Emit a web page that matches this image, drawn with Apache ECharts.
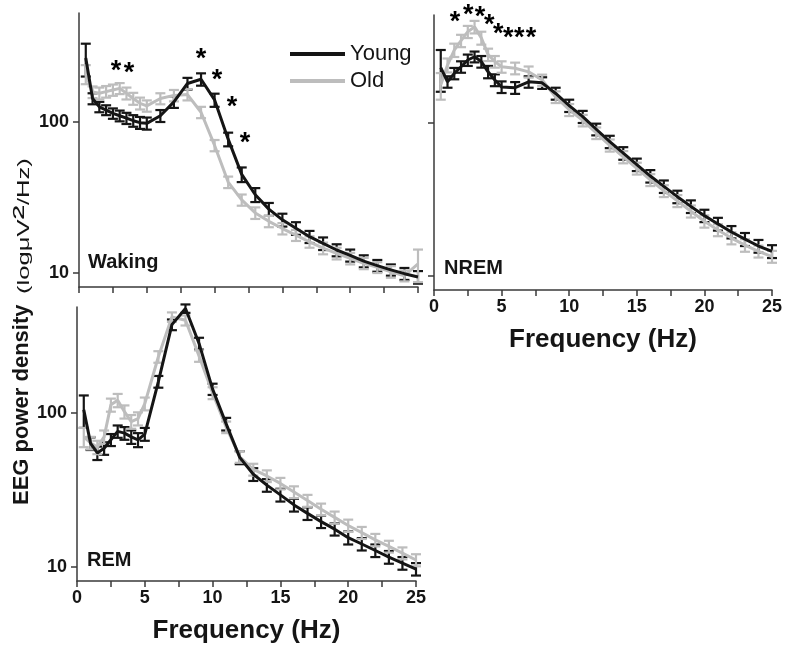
<!DOCTYPE html>
<html><head><meta charset="utf-8">
<script src="https://cdn.jsdelivr.net/npm/echarts@6/dist/echarts.min.js"></script>
<style>html,body{margin:0;padding:0;background:#fff}#c{width:787px;height:648px}</style>
</head><body><div id="c"></div>
<script>
// Frequency bins (Hz)
const freq = [0.5,1,1.5,2,2.5,3,3.5,4,4.5,5,6,7,8,9,10,11,12,13,14,15,16,17,18,19,20,21,22,23,24,25];
const xTicks = [0,5,10,15,20,25];
const yTicks = [10,100];

// Waking
const wakeYoung = [265,143,126,120,114,110,106,102,99,98,110,136,180,192,140,77,45,33,26.5,22.5,19.8,17.4,15.7,14.2,13.1,12.0,11.2,10.5,9.9,9.4];
const wakeYoungErr = [65,12,10,9,9,9,9,9,9,9,10,12,16,18,14,8,5,3.5,2.6,2.2,1.9,1.6,1.5,1.3,1.2,1.1,1.0,0.9,0.9,0.9];
const wakeOld = [208,158,155,159,163,167,155,143,133,128,143,150,152,116,70,40,30.5,25,22,19.7,17.8,16.1,14.6,13.5,12.5,11.6,10.9,10.2,9.6,11.5];
const wakeOldErr = [30,14,14,14,14,14,14,13,12,11,12,13,13,10,6,3.5,2.6,2.2,1.9,1.7,1.5,1.4,1.3,1.2,1.1,1.0,0.9,0.9,0.8,2.8];

// NREM
const nremYoung = [230,186,211,233,258,271,252,216,191,172,170,186,183,156,130,110,91,75.5,63.5,53.5,45,38.5,33,28.5,24.8,21.9,19.4,17.4,15.7,14.5];
const nremYoungErr = [70,16,18,20,22,22,22,20,17,15,15,16,16,14,12,10,8,7,6,5,4.2,3.6,3.1,2.7,2.3,2.1,1.8,1.7,1.5,1.4];
const nremOld = [177,239,300,345,395,425,360,280,252,233,228,216,191,148,122,104,86,71.5,60,50.5,42.5,36,31,26.5,22.8,20,17.7,15.9,14.5,13.4];
const nremOldErr = [35,25,30,32,36,40,35,26,22,20,20,18,16,13,11,9,7.5,6.5,5.5,4.5,3.8,3.2,2.8,2.4,2.1,1.8,1.6,1.5,1.3,1.2];

// REM
const remYoung = [105,63.5,55,59,67,76,74,70,67,73,160,375,477,283,143,85,51.5,40,34,29.4,25.3,22.3,19.7,17.6,15.5,14.1,12.8,11.6,10.6,9.7];
const remYoungErr = [25,6,5.5,5.5,6,7,7,7,7,7,14,30,30,25,12,8,5,3.8,3.2,2.8,2.4,2.1,1.8,1.6,1.5,1.3,1.2,1.1,1.0,0.9];
const remOld = [70,64,60,70,113,121,102,88,92,115,232,420,400,235,135,81,52,43,39,34.9,30.7,27,23.7,21,18.6,16.7,15,13.6,12.3,11.1];
const remOldErr = [10,6,6,7,11,12,10,9,9,11,20,30,30,20,12,7,4.5,3.8,3.4,3.0,2.7,2.4,2.1,1.9,1.7,1.5,1.4,1.2,1.1,1.0];

// Significance asterisks (x in Hz, y in µV²/Hz)
const wakeStarX = [2.73,3.69,9.0,10.18,11.28,12.24];
const wakeStarY = [235,228,285,206,136,79];
const nremStarX = [1.55,2.54,3.40,4.09,4.76,5.50,6.31,7.17];
const nremStarY = [495,553,534,471,416,389,389,391];

const panelNames = ['Waking','NREM','REM'];

const FONT = '"Liberation Sans", Arial, sans-serif';
const BLACK = '#151515';
const GREY = '#bdbdbd';
const AXIS = '#3a3a3a';

const grids = [
  {left:79, top:13, width:339, height:274},
  {left:434, top:15, width:338, height:275},
  {left:77, top:307, width:339, height:274}
];
const yRanges = [[8.08,527],[8.1,508],[8.11,488]];

function pairs(xs, ys){ return xs.map((x,i)=>[x, ys[i]]); }
function triples(xs, ys, es){ return xs.map((x,i)=>[x, ys[i], es[i]]); }

function errSeries(name, idx, data, color, z){
  return {
    type:'custom', name, xAxisIndex:idx, yAxisIndex:idx, z, silent:true,
    encode:{x:0, y:1},
    data,
    renderItem(params, api){
      const x = api.value(0), y = api.value(1), e = api.value(2);
      const t = api.coord([x, y + e]);
      const b = api.coord([x, Math.max(y - e, 0.5)]);
      const w = 5;
      const st = {stroke:color, lineWidth:2.2};
      return {type:'group', children:[
        {type:'line', shape:{x1:t[0], y1:t[1], x2:b[0], y2:b[1]}, style:st},
        {type:'line', shape:{x1:t[0]-w, y1:t[1], x2:t[0]+w, y2:t[1]}, style:st},
        {type:'line', shape:{x1:b[0]-w, y1:b[1], x2:b[0]+w, y2:b[1]}, style:st}
      ]};
    }
  };
}
function lineSeries(name, idx, data, color, z){
  return {type:'line', name, xAxisIndex:idx, yAxisIndex:idx, data, symbol:'none', z,
    lineStyle:{color, width:3}, itemStyle:{color}, silent:true, animation:false};
}
function starSeries(idx, data){
  return {type:'scatter', xAxisIndex:idx, yAxisIndex:idx, data, symbolSize:1, clip:false, silent:true, z:10,
    itemStyle:{color:'rgba(0,0,0,0)', opacity:1},
    label:{show:true, formatter:'*', position:'inside', offset:[0,6], fontSize:27, fontWeight:'bold', fontFamily:FONT,
      color:'#000', opacity:1}};
}

const xAxes = grids.map((g,i)=>({
  type:'value', gridIndex:i, min:0, max:25, interval:5,
  axisLine:{show:true, onZero:false, lineStyle:{color:AXIS, width:1.5}},
  axisTick:{show:true, length:6, lineStyle:{color:AXIS, width:1.5}},
  minorTick:{show:true, splitNumber:2, length:6, lineStyle:{color:AXIS, width:1.5}},
  splitLine:{show:false}, minorSplitLine:{show:false},
  axisLabel:{show:i>0, margin:8, fontSize:18, fontWeight:'bold', fontFamily:FONT, color:BLACK,
    customValues:xTicks},
  name: i>0 ? 'Frequency (Hz)' : '',
  nameLocation:'middle', nameGap:37,
  nameTextStyle:{fontSize:26, fontWeight:'bold', fontFamily:FONT, color:BLACK}
}));
const yAxes = grids.map((g,i)=>({
  type:'log', logBase:10, gridIndex:i, min:yRanges[i][0], max:yRanges[i][1],
  axisLine:{show:true, lineStyle:{color:AXIS, width:1.5}},
  axisTick:{show:true, length:6, customValues:yTicks, lineStyle:{color:AXIS, width:1.5}},
  minorTick:{show:false}, splitLine:{show:false},
  axisLabel:{show:i!==1, margin:10, fontSize:18, fontWeight:'bold', fontFamily:FONT, color:BLACK,
    customValues:yTicks, formatter:(v)=>String(Math.round(v))}
}));

const series = [
  // Waking
  errSeries('Young err', 0, triples(freq, wakeYoung, wakeYoungErr), BLACK, 2),
  errSeries('Old err', 0, triples(freq, wakeOld, wakeOldErr), GREY, 3),
  lineSeries('Old', 0, pairs(freq, wakeOld), GREY, 4),
  lineSeries('Young', 0, pairs(freq, wakeYoung), BLACK, 5),
  // NREM
  errSeries('Young err', 1, triples(freq, nremYoung, nremYoungErr), BLACK, 2),
  errSeries('Old err', 1, triples(freq, nremOld, nremOldErr), GREY, 3),
  lineSeries('Old', 1, pairs(freq, nremOld), GREY, 4),
  lineSeries('Young', 1, pairs(freq, nremYoung), BLACK, 5),
  // REM
  errSeries('Young err', 2, triples(freq, remYoung, remYoungErr), BLACK, 2),
  errSeries('Old err', 2, triples(freq, remOld, remOldErr), GREY, 3),
  lineSeries('Old', 2, pairs(freq, remOld), GREY, 4),
  lineSeries('Young', 2, pairs(freq, remYoung), BLACK, 5),
  // asterisks
  starSeries(0, pairs(wakeStarX, wakeStarY)),
  starSeries(1, pairs(nremStarX, nremStarY))
];

const chart = echarts.init(document.getElementById('c'), null, {renderer:'canvas'});
chart.setOption({
  animation:false,
  backgroundColor:'#fff',
  grid: grids.map(g=>Object.assign({outerBoundsMode:'none', containLabel:false}, g)),
  xAxis: xAxes,
  yAxis: yAxes,
  legend:{
    data:[{name:'Young', itemStyle:{color:BLACK}}, {name:'Old', itemStyle:{color:GREY}}],
    orient:'vertical', left:290, top:43, padding:0, itemWidth:55, itemHeight:4, itemGap:5, icon:'rect',
    selectedMode:false,
    textStyle:{fontSize:22, fontFamily:FONT, color:BLACK}
  },
  graphic:[
    {type:'text', x:88, y:262, silent:true, style:{text:panelNames[0], font:'bold 20px ' + FONT, fill:BLACK, verticalAlign:'middle', align:'left'}},
    {type:'text', x:444, y:268.5, silent:true, style:{text:panelNames[1], font:'bold 20px ' + FONT, fill:BLACK, verticalAlign:'middle', align:'left'}},
    {type:'text', x:87, y:560, silent:true, style:{text:panelNames[2], font:'bold 20px ' + FONT, fill:BLACK, verticalAlign:'middle', align:'left'}},
    {type:'text', x:22, y:505, rotation:Math.PI/2, silent:true,
      style:{text:'EEG power density', font:'bold 22px ' + FONT, fill:BLACK, verticalAlign:'middle', align:'left'}},
    {type:'text', x:25, y:294, rotation:Math.PI/2, scaleX:1.6, silent:true,
      style:{text:'{a|(logμV}{b|²}{a|/Hz)}', fill:BLACK, verticalAlign:'middle', align:'left',
        rich:{a:{fontSize:16, fontFamily:FONT}, b:{fontSize:27, fontFamily:FONT}}}}
  ],
  series
});
</script>
</body></html>
